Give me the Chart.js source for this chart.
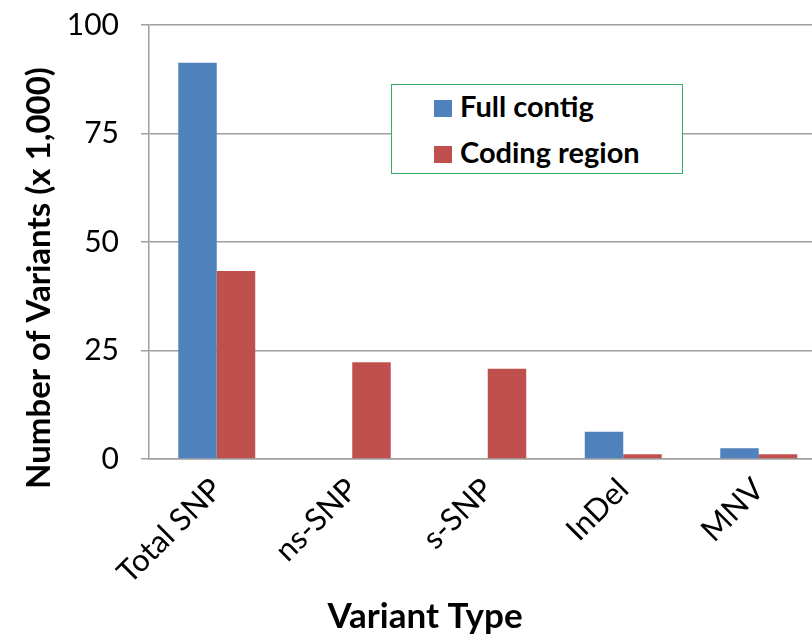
<!DOCTYPE html>
<html>
<head>
<meta charset="utf-8">
<script src="https://cdn.jsdelivr.net/npm/chart.js@4"></script>
<style>
  html, body { margin: 0; padding: 0; background: #fff; overflow: hidden; }
  #wrap { position: relative; width: 830px; height: 636px; }
  #legend {
    position: absolute; left: 391px; top: 84px; width: 290px; height: 88px;
    border: 1.5px solid #35ad62; background: #fff;
    font-family: Lato, "Open Sans", sans-serif; font-weight: bold; font-size: 29px; color: #000;
  }
  #legend .row { position: absolute; left: 42px; height: 30px; line-height: 30px; white-space: nowrap; }
  #legend .sw { display: inline-block; width: 18px; height: 17px; margin-right: 8px; vertical-align: 0px; }
</style>
</head>
<body>
<div id="wrap">
  <canvas id="chart"></canvas>
  <div id="legend"></div>
</div>
<script>
// data (x 1,000 variants)
const categories = ['Total SNP', 'ns-SNP', 's-SNP', 'InDel', 'MNV'];
const fullContig = [91.3, null, null, 6.3, 2.5];
const codingRegion = [43.3, 22.3, 20.8, 1.1, 1.1];
const seriesNames = ['Full contig', 'Coding region'];
const seriesColors = ['#4f81bd', '#c0504d'];
const yTickValues = [0, 25, 50, 75, 100];
const xAxisTitle = 'Variant Type';
const yAxisTitle = 'Number of Variants (x 1,000)';

const FONT = 'Lato, "Open Sans", sans-serif';

// legend box
var legend = document.getElementById('legend');
seriesNames.forEach(function(name, i) {
    var row = document.createElement('div');
    row.className = 'row';
    row.style.top = (6 + i * 46) + 'px';
    row.innerHTML = '<span class="sw" style="background:' + seriesColors[i] + '"></span>' + name;
    legend.appendChild(row);
});

// axis titles, placed like the original (not centred on the plot)
const axisTitles = {
    id: 'axisTitles',
    afterDraw(chart) {
        var c = chart.ctx;
        c.save();
        c.fillStyle = '#000';
        c.textAlign = 'center';
        c.textBaseline = 'alphabetic';
        c.font = 'bold 35px ' + FONT;
        c.fillText(xAxisTitle, 425, 628);
        c.font = 'bold 33px ' + FONT;
        c.translate(50, 278);
        c.rotate(-Math.PI / 2);
        c.fillText(yAxisTitle, 0, 0);
        c.restore();
    }
};

var ctx = document.getElementById('chart').getContext('2d');
new Chart(ctx, {
    type: 'bar',
    data: {
        labels: categories,
        datasets: [{
            label: seriesNames[0],
            data: fullContig,
            backgroundColor: seriesColors[0],
            borderWidth: 0
        }, {
            label: seriesNames[1],
            data: codingRegion,
            backgroundColor: seriesColors[1],
            borderWidth: 0
        }]
    },
    options: {
        responsive: true,
        maintainAspectRatio: false,
        animation: false,
        categoryPercentage: 0.568,
        barPercentage: 1.0,
        layout: { padding: { top: 25, right: 3.5, left: 0, bottom: 0 } },
        plugins: {
            legend: { display: false },
            tooltip: { enabled: false }
        },
        scales: {
            x: {
                grid: { display: false },
                border: { display: true, color: '#a0a0a0', width: 1.5 },
                ticks: {
                    color: '#000',
                    font: { family: FONT, size: 31 },
                    minRotation: 45,
                    maxRotation: 45,
                    padding: 4
                },
                afterFit(scale) { scale.height = 177; }
            },
            y: {
                min: 0,
                max: 100,
                afterBuildTicks(scale) {
                    scale.ticks = yTickValues.map(function(v) { return { value: v }; });
                },
                grid: { color: '#a0a0a0', lineWidth: 1.5, tickLength: 8 },
                border: { display: true, color: '#a0a0a0', width: 1.5 },
                ticks: {
                    color: '#000',
                    // tiny lineHeight so the labels don't push the plot top down
                    font: { family: FONT, size: 30, lineHeight: 0.1 },
                    padding: 22
                },
                afterFit(scale) { scale.width = 149; }
            }
        }
    },
    plugins: [axisTitles]
});
</script>
</body>
</html>
